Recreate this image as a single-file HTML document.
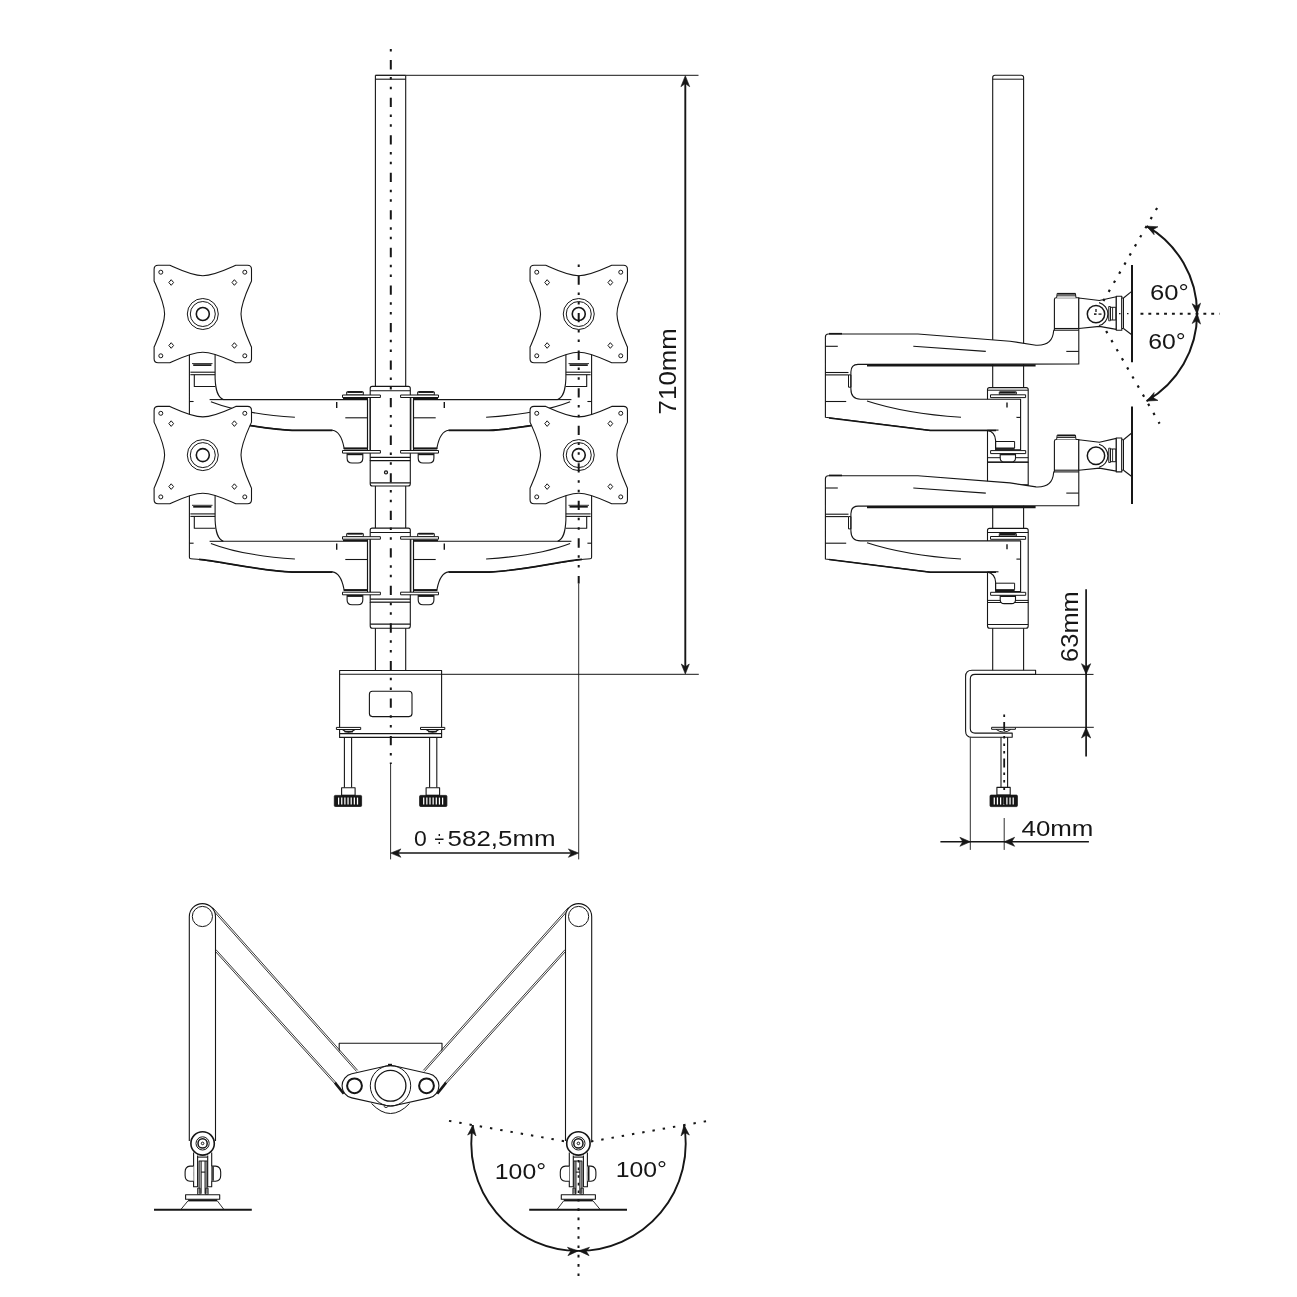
<!DOCTYPE html>
<html><head><meta charset="utf-8"><title>Monitor mount drawing</title>
<style>
html,body{margin:0;padding:0;background:#fff;}
body{width:1297px;height:1297px;overflow:hidden;font-family:"Liberation Sans",sans-serif;}
svg{display:block;}
svg text{font-family:"Liberation Sans",sans-serif;}
svg{filter:grayscale(1);}
</style></head><body>
<svg width="1297" height="1297" viewBox="0 0 1297 1297" fill="none" stroke="#161616" stroke-linecap="butt" stroke-linejoin="round">
<rect x="0" y="0" width="1297" height="1297" fill="#fff" stroke="none"/>
<g id="front">
<line x1="375.4" y1="75.3" x2="375.4" y2="671" stroke-width="1.1" />
<line x1="405.7" y1="75.3" x2="405.7" y2="671" stroke-width="1.1" />
<line x1="375.4" y1="75.3" x2="405.7" y2="75.3" stroke-width="1.3" />
<line x1="375.4" y1="79.2" x2="405.7" y2="79.2" stroke-width="1.1" />
<g transform="translate(0 -141.7)">
<path d="M189.4,492 L189.4,557.3 Q189.4,558.7 190.8,558.7 C215,560 260,571 292.1,571.9 L332.4,571.9 C338,572.6 342,579 343.9,588.9 L343.9,590.3 L367.5,590.3 L367.5,541.3 L223.4,541.3 C217.5,539 215.6,532 215.1,520 L215.1,492 Z" stroke-width="1.1" fill="#fff" />
<line x1="193.2" y1="506.8" x2="211.4" y2="506.8" stroke-width="1.7" />
<line x1="192" y1="505.3" x2="212.5" y2="505.3" stroke-width="0.9" />
<line x1="190.4" y1="513.9" x2="215.1" y2="513.9" stroke-width="1.1" />
<line x1="190.4" y1="516.4" x2="215.1" y2="516.4" stroke-width="1.1" />
<path d="M194.3,516.4 L194.3,528.2 L215.3,528.2" stroke-width="1.1" fill="none" />
<line x1="189.4" y1="543.2" x2="193.6" y2="543.2" stroke-width="1.1" />
<line x1="209.6" y1="541.3" x2="223.4" y2="541.3" stroke-width="1.1" />
<path d="M210.9,543.4 Q242,555.5 294.9,559" stroke-width="1.1" fill="none" />
<path d="M199,559.3 C220,561 262,571.2 292.1,572.1 L332.4,572.1" stroke-width="1.7" fill="none" />
<line x1="336.7" y1="543.6" x2="336.7" y2="549.8" stroke-width="1.4" />
<line x1="345.3" y1="559.5" x2="367" y2="559.5" stroke-width="1.1" />
<line x1="344" y1="590.1" x2="367.5" y2="590.1" stroke-width="2.0" />
<line x1="343" y1="540.4" x2="367.5" y2="540.4" stroke-width="1.6" />
</g>
<g transform="translate(781 -141.7) scale(-1 1)">
<path d="M189.4,492 L189.4,557.3 Q189.4,558.7 190.8,558.7 C215,560 260,571 292.1,571.9 L332.4,571.9 C338,572.6 342,579 343.9,588.9 L343.9,590.3 L367.5,590.3 L367.5,541.3 L223.4,541.3 C217.5,539 215.6,532 215.1,520 L215.1,492 Z" stroke-width="1.1" fill="#fff" />
<line x1="193.2" y1="506.8" x2="211.4" y2="506.8" stroke-width="1.7" />
<line x1="192" y1="505.3" x2="212.5" y2="505.3" stroke-width="0.9" />
<line x1="190.4" y1="513.9" x2="215.1" y2="513.9" stroke-width="1.1" />
<line x1="190.4" y1="516.4" x2="215.1" y2="516.4" stroke-width="1.1" />
<path d="M194.3,516.4 L194.3,528.2 L215.3,528.2" stroke-width="1.1" fill="none" />
<line x1="189.4" y1="543.2" x2="193.6" y2="543.2" stroke-width="1.1" />
<line x1="209.6" y1="541.3" x2="223.4" y2="541.3" stroke-width="1.1" />
<path d="M210.9,543.4 Q242,555.5 294.9,559" stroke-width="1.1" fill="none" />
<path d="M199,559.3 C220,561 262,571.2 292.1,572.1 L332.4,572.1" stroke-width="1.7" fill="none" />
<line x1="336.7" y1="543.6" x2="336.7" y2="549.8" stroke-width="1.4" />
<line x1="345.3" y1="559.5" x2="367" y2="559.5" stroke-width="1.1" />
<line x1="344" y1="590.1" x2="367.5" y2="590.1" stroke-width="2.0" />
<line x1="343" y1="540.4" x2="367.5" y2="540.4" stroke-width="1.6" />
</g>
<g transform="translate(0 -141.7)">
<path d="M370.2,602.3 L370.2,530.1 Q370.2,528.1 372.2,528.1 L408.3,528.1 Q410.3,528.1 410.3,530.1 L410.3,602.3 Z" stroke-width="1.1" fill="#fff" />
<line x1="370.2" y1="532.5" x2="410.3" y2="532.5" stroke-width="1.1" />
<g>
<line x1="367.5" y1="539.2" x2="367.5" y2="592.2" stroke-width="1.1" />
<line x1="370.2" y1="539.2" x2="370.2" y2="592.2" stroke-width="1.1" />
<rect x="346.7" y="533.6" width="16.6" height="3.1" rx="0" stroke-width="1.0" fill="#fff" />
<line x1="347.5" y1="533.7" x2="362.5" y2="533.7" stroke-width="1.8" />
<rect x="342.5" y="536.7" width="37.9" height="2.5" rx="0" stroke-width="1.0" fill="#fff" />
<path d="M347.1,594.8 L347.1,600 Q347.1,604.7 352,604.7 L358,604.7 Q362.8,604.7 362.8,600 L362.8,594.8" stroke-width="1.1" fill="#fff" />
<line x1="347.1" y1="595.9" x2="362.8" y2="595.9" stroke-width="2.0" />
<rect x="342.5" y="592.2" width="37.9" height="2.6" rx="0" stroke-width="1.0" fill="#fff" />
</g>
<g transform="translate(781 0) scale(-1 1)">
<line x1="367.5" y1="539.2" x2="367.5" y2="592.2" stroke-width="1.1" />
<line x1="370.2" y1="539.2" x2="370.2" y2="592.2" stroke-width="1.1" />
<rect x="346.7" y="533.6" width="16.6" height="3.1" rx="0" stroke-width="1.0" fill="#fff" />
<line x1="347.5" y1="533.7" x2="362.5" y2="533.7" stroke-width="1.8" />
<rect x="342.5" y="536.7" width="37.9" height="2.5" rx="0" stroke-width="1.0" fill="#fff" />
<path d="M347.1,594.8 L347.1,600 Q347.1,604.7 352,604.7 L358,604.7 Q362.8,604.7 362.8,600 L362.8,594.8" stroke-width="1.1" fill="#fff" />
<line x1="347.1" y1="595.9" x2="362.8" y2="595.9" stroke-width="2.0" />
<rect x="342.5" y="592.2" width="37.9" height="2.6" rx="0" stroke-width="1.0" fill="#fff" />
</g>
<line x1="370.2" y1="599.1" x2="410.3" y2="599.1" stroke-width="1.1" />
<path d="M370.2,602.3 L370.2,625.4 Q370.2,627.7 372.5,627.7 L408,627.7 Q410.3,627.7 410.3,625.4 L410.3,602.3 Z" stroke-width="1.1" fill="#fff" />
<line x1="370.2" y1="624.6" x2="410.3" y2="624.6" stroke-width="1.1" />
<circle cx="386" cy="614.1" r="1.5" stroke-width="1.3" fill="none" />
</g>
<path d="M189.4,492 L189.4,557.3 Q189.4,558.7 190.8,558.7 C215,560 260,571 292.1,571.9 L332.4,571.9 C338,572.6 342,579 343.9,588.9 L343.9,590.3 L367.5,590.3 L367.5,541.3 L223.4,541.3 C217.5,539 215.6,532 215.1,520 L215.1,492 Z" stroke-width="1.1" fill="#fff" />
<line x1="193.2" y1="506.8" x2="211.4" y2="506.8" stroke-width="1.7" />
<line x1="192" y1="505.3" x2="212.5" y2="505.3" stroke-width="0.9" />
<line x1="190.4" y1="513.9" x2="215.1" y2="513.9" stroke-width="1.1" />
<line x1="190.4" y1="516.4" x2="215.1" y2="516.4" stroke-width="1.1" />
<path d="M194.3,516.4 L194.3,528.2 L215.3,528.2" stroke-width="1.1" fill="none" />
<line x1="189.4" y1="543.2" x2="193.6" y2="543.2" stroke-width="1.1" />
<line x1="209.6" y1="541.3" x2="223.4" y2="541.3" stroke-width="1.1" />
<path d="M210.9,543.4 Q242,555.5 294.9,559" stroke-width="1.1" fill="none" />
<path d="M199,559.3 C220,561 262,571.2 292.1,572.1 L332.4,572.1" stroke-width="1.7" fill="none" />
<line x1="336.7" y1="543.6" x2="336.7" y2="549.8" stroke-width="1.4" />
<line x1="345.3" y1="559.5" x2="367" y2="559.5" stroke-width="1.1" />
<line x1="344" y1="590.1" x2="367.5" y2="590.1" stroke-width="2.0" />
<line x1="343" y1="540.4" x2="367.5" y2="540.4" stroke-width="1.6" />
<g transform="translate(781 0) scale(-1 1)">
<path d="M189.4,492 L189.4,557.3 Q189.4,558.7 190.8,558.7 C215,560 260,571 292.1,571.9 L332.4,571.9 C338,572.6 342,579 343.9,588.9 L343.9,590.3 L367.5,590.3 L367.5,541.3 L223.4,541.3 C217.5,539 215.6,532 215.1,520 L215.1,492 Z" stroke-width="1.1" fill="#fff" />
<line x1="193.2" y1="506.8" x2="211.4" y2="506.8" stroke-width="1.7" />
<line x1="192" y1="505.3" x2="212.5" y2="505.3" stroke-width="0.9" />
<line x1="190.4" y1="513.9" x2="215.1" y2="513.9" stroke-width="1.1" />
<line x1="190.4" y1="516.4" x2="215.1" y2="516.4" stroke-width="1.1" />
<path d="M194.3,516.4 L194.3,528.2 L215.3,528.2" stroke-width="1.1" fill="none" />
<line x1="189.4" y1="543.2" x2="193.6" y2="543.2" stroke-width="1.1" />
<line x1="209.6" y1="541.3" x2="223.4" y2="541.3" stroke-width="1.1" />
<path d="M210.9,543.4 Q242,555.5 294.9,559" stroke-width="1.1" fill="none" />
<path d="M199,559.3 C220,561 262,571.2 292.1,572.1 L332.4,572.1" stroke-width="1.7" fill="none" />
<line x1="336.7" y1="543.6" x2="336.7" y2="549.8" stroke-width="1.4" />
<line x1="345.3" y1="559.5" x2="367" y2="559.5" stroke-width="1.1" />
<line x1="344" y1="590.1" x2="367.5" y2="590.1" stroke-width="2.0" />
<line x1="343" y1="540.4" x2="367.5" y2="540.4" stroke-width="1.6" />
</g>
<path d="M370.2,602.3 L370.2,530.1 Q370.2,528.1 372.2,528.1 L408.3,528.1 Q410.3,528.1 410.3,530.1 L410.3,602.3 Z" stroke-width="1.1" fill="#fff" />
<line x1="370.2" y1="532.5" x2="410.3" y2="532.5" stroke-width="1.1" />
<g>
<line x1="367.5" y1="539.2" x2="367.5" y2="592.2" stroke-width="1.1" />
<line x1="370.2" y1="539.2" x2="370.2" y2="592.2" stroke-width="1.1" />
<rect x="346.7" y="533.6" width="16.6" height="3.1" rx="0" stroke-width="1.0" fill="#fff" />
<line x1="347.5" y1="533.7" x2="362.5" y2="533.7" stroke-width="1.8" />
<rect x="342.5" y="536.7" width="37.9" height="2.5" rx="0" stroke-width="1.0" fill="#fff" />
<path d="M347.1,594.8 L347.1,600 Q347.1,604.7 352,604.7 L358,604.7 Q362.8,604.7 362.8,600 L362.8,594.8" stroke-width="1.1" fill="#fff" />
<line x1="347.1" y1="595.9" x2="362.8" y2="595.9" stroke-width="2.0" />
<rect x="342.5" y="592.2" width="37.9" height="2.6" rx="0" stroke-width="1.0" fill="#fff" />
</g>
<g transform="translate(781 0) scale(-1 1)">
<line x1="367.5" y1="539.2" x2="367.5" y2="592.2" stroke-width="1.1" />
<line x1="370.2" y1="539.2" x2="370.2" y2="592.2" stroke-width="1.1" />
<rect x="346.7" y="533.6" width="16.6" height="3.1" rx="0" stroke-width="1.0" fill="#fff" />
<line x1="347.5" y1="533.7" x2="362.5" y2="533.7" stroke-width="1.8" />
<rect x="342.5" y="536.7" width="37.9" height="2.5" rx="0" stroke-width="1.0" fill="#fff" />
<path d="M347.1,594.8 L347.1,600 Q347.1,604.7 352,604.7 L358,604.7 Q362.8,604.7 362.8,600 L362.8,594.8" stroke-width="1.1" fill="#fff" />
<line x1="347.1" y1="595.9" x2="362.8" y2="595.9" stroke-width="2.0" />
<rect x="342.5" y="592.2" width="37.9" height="2.6" rx="0" stroke-width="1.0" fill="#fff" />
</g>
<line x1="370.2" y1="599.1" x2="410.3" y2="599.1" stroke-width="1.1" />
<path d="M370.2,602.3 L370.2,626 Q370.2,628.3 372.5,628.3 L408,628.3 Q410.3,628.3 410.3,626 L410.3,602.3 Z" stroke-width="1.1" fill="#fff" />
<line x1="370.2" y1="624.1" x2="410.3" y2="624.1" stroke-width="1.1" />
<g transform="translate(202.8 314)">
<path d="M-33,-48.7 C-22,-43.8 -10.5,-38.2 0,-38.2 C10.5,-38.2 22,-43.8 33,-48.7 L44.7,-48.7 Q48.7,-48.7 48.7,-44.7 L48.7,-33 C43.8,-22 38.2,-10.5 38.2,0 C38.2,10.5 43.8,22 48.7,33 L48.7,44.7 Q48.7,48.7 44.7,48.7 L33,48.7 C22,43.8 10.5,38.2 0,38.2 C-10.5,38.2 -22,43.8 -33,48.7 L-44.7,48.7 Q-48.7,48.7 -48.7,44.7 L-48.7,33 C-43.8,22 -38.2,10.5 -38.2,0 C-38.2,-10.5 -43.8,-22 -48.7,-33 L-48.7,-44.7 Q-48.7,-48.7 -44.7,-48.7 Z" stroke-width="1.1" fill="#fff" />
<circle cx="0" cy="0" r="15.5" stroke-width="1.0" fill="none" />
<circle cx="0" cy="0" r="12.5" stroke-width="1.0" fill="none" />
<circle cx="0" cy="0" r="6.5" stroke-width="1.6" fill="none" />
<circle cx="-42" cy="-41.8" r="2" stroke-width="1.0" fill="none" />
<path d="M-31.6,-34.3 L-29.22,-31.5 L-31.6,-28.7 L-33.98,-31.5 Z" stroke-width="1.0" fill="none" />
<circle cx="-42" cy="41.8" r="2" stroke-width="1.0" fill="none" />
<path d="M-31.6,28.7 L-29.22,31.5 L-31.6,34.3 L-33.98,31.5 Z" stroke-width="1.0" fill="none" />
<circle cx="42" cy="-41.8" r="2" stroke-width="1.0" fill="none" />
<path d="M31.6,-34.3 L33.98,-31.5 L31.6,-28.7 L29.22,-31.5 Z" stroke-width="1.0" fill="none" />
<circle cx="42" cy="41.8" r="2" stroke-width="1.0" fill="none" />
<path d="M31.6,28.7 L33.98,31.5 L31.6,34.3 L29.22,31.5 Z" stroke-width="1.0" fill="none" />
</g>
<g transform="translate(202.8 455.1)">
<path d="M-33,-48.7 C-22,-43.8 -10.5,-38.2 0,-38.2 C10.5,-38.2 22,-43.8 33,-48.7 L44.7,-48.7 Q48.7,-48.7 48.7,-44.7 L48.7,-33 C43.8,-22 38.2,-10.5 38.2,0 C38.2,10.5 43.8,22 48.7,33 L48.7,44.7 Q48.7,48.7 44.7,48.7 L33,48.7 C22,43.8 10.5,38.2 0,38.2 C-10.5,38.2 -22,43.8 -33,48.7 L-44.7,48.7 Q-48.7,48.7 -48.7,44.7 L-48.7,33 C-43.8,22 -38.2,10.5 -38.2,0 C-38.2,-10.5 -43.8,-22 -48.7,-33 L-48.7,-44.7 Q-48.7,-48.7 -44.7,-48.7 Z" stroke-width="1.1" fill="#fff" />
<circle cx="0" cy="0" r="15.5" stroke-width="1.0" fill="none" />
<circle cx="0" cy="0" r="12.5" stroke-width="1.0" fill="none" />
<circle cx="0" cy="0" r="6.5" stroke-width="1.6" fill="none" />
<circle cx="-42" cy="-41.8" r="2" stroke-width="1.0" fill="none" />
<path d="M-31.6,-34.3 L-29.22,-31.5 L-31.6,-28.7 L-33.98,-31.5 Z" stroke-width="1.0" fill="none" />
<circle cx="-42" cy="41.8" r="2" stroke-width="1.0" fill="none" />
<path d="M-31.6,28.7 L-29.22,31.5 L-31.6,34.3 L-33.98,31.5 Z" stroke-width="1.0" fill="none" />
<circle cx="42" cy="-41.8" r="2" stroke-width="1.0" fill="none" />
<path d="M31.6,-34.3 L33.98,-31.5 L31.6,-28.7 L29.22,-31.5 Z" stroke-width="1.0" fill="none" />
<circle cx="42" cy="41.8" r="2" stroke-width="1.0" fill="none" />
<path d="M31.6,28.7 L33.98,31.5 L31.6,34.3 L29.22,31.5 Z" stroke-width="1.0" fill="none" />
</g>
<g transform="translate(578.75 314)">
<path d="M-33,-48.7 C-22,-43.8 -10.5,-38.2 0,-38.2 C10.5,-38.2 22,-43.8 33,-48.7 L44.7,-48.7 Q48.7,-48.7 48.7,-44.7 L48.7,-33 C43.8,-22 38.2,-10.5 38.2,0 C38.2,10.5 43.8,22 48.7,33 L48.7,44.7 Q48.7,48.7 44.7,48.7 L33,48.7 C22,43.8 10.5,38.2 0,38.2 C-10.5,38.2 -22,43.8 -33,48.7 L-44.7,48.7 Q-48.7,48.7 -48.7,44.7 L-48.7,33 C-43.8,22 -38.2,10.5 -38.2,0 C-38.2,-10.5 -43.8,-22 -48.7,-33 L-48.7,-44.7 Q-48.7,-48.7 -44.7,-48.7 Z" stroke-width="1.1" fill="#fff" />
<circle cx="0" cy="0" r="15.5" stroke-width="1.0" fill="none" />
<circle cx="0" cy="0" r="12.5" stroke-width="1.0" fill="none" />
<circle cx="0" cy="0" r="6.5" stroke-width="1.6" fill="none" />
<circle cx="-42" cy="-41.8" r="2" stroke-width="1.0" fill="none" />
<path d="M-31.6,-34.3 L-29.22,-31.5 L-31.6,-28.7 L-33.98,-31.5 Z" stroke-width="1.0" fill="none" />
<circle cx="-42" cy="41.8" r="2" stroke-width="1.0" fill="none" />
<path d="M-31.6,28.7 L-29.22,31.5 L-31.6,34.3 L-33.98,31.5 Z" stroke-width="1.0" fill="none" />
<circle cx="42" cy="-41.8" r="2" stroke-width="1.0" fill="none" />
<path d="M31.6,-34.3 L33.98,-31.5 L31.6,-28.7 L29.22,-31.5 Z" stroke-width="1.0" fill="none" />
<circle cx="42" cy="41.8" r="2" stroke-width="1.0" fill="none" />
<path d="M31.6,28.7 L33.98,31.5 L31.6,34.3 L29.22,31.5 Z" stroke-width="1.0" fill="none" />
</g>
<g transform="translate(578.75 455.1)">
<path d="M-33,-48.7 C-22,-43.8 -10.5,-38.2 0,-38.2 C10.5,-38.2 22,-43.8 33,-48.7 L44.7,-48.7 Q48.7,-48.7 48.7,-44.7 L48.7,-33 C43.8,-22 38.2,-10.5 38.2,0 C38.2,10.5 43.8,22 48.7,33 L48.7,44.7 Q48.7,48.7 44.7,48.7 L33,48.7 C22,43.8 10.5,38.2 0,38.2 C-10.5,38.2 -22,43.8 -33,48.7 L-44.7,48.7 Q-48.7,48.7 -48.7,44.7 L-48.7,33 C-43.8,22 -38.2,10.5 -38.2,0 C-38.2,-10.5 -43.8,-22 -48.7,-33 L-48.7,-44.7 Q-48.7,-48.7 -44.7,-48.7 Z" stroke-width="1.1" fill="#fff" />
<circle cx="0" cy="0" r="15.5" stroke-width="1.0" fill="none" />
<circle cx="0" cy="0" r="12.5" stroke-width="1.0" fill="none" />
<circle cx="0" cy="0" r="6.5" stroke-width="1.6" fill="none" />
<circle cx="-42" cy="-41.8" r="2" stroke-width="1.0" fill="none" />
<path d="M-31.6,-34.3 L-29.22,-31.5 L-31.6,-28.7 L-33.98,-31.5 Z" stroke-width="1.0" fill="none" />
<circle cx="-42" cy="41.8" r="2" stroke-width="1.0" fill="none" />
<path d="M-31.6,28.7 L-29.22,31.5 L-31.6,34.3 L-33.98,31.5 Z" stroke-width="1.0" fill="none" />
<circle cx="42" cy="-41.8" r="2" stroke-width="1.0" fill="none" />
<path d="M31.6,-34.3 L33.98,-31.5 L31.6,-28.7 L29.22,-31.5 Z" stroke-width="1.0" fill="none" />
<circle cx="42" cy="41.8" r="2" stroke-width="1.0" fill="none" />
<path d="M31.6,28.7 L33.98,31.5 L31.6,34.3 L29.22,31.5 Z" stroke-width="1.0" fill="none" />
</g>
<rect x="339.6" y="670.5" width="102" height="63.1" rx="0" stroke-width="1.1" fill="#fff" />
<line x1="339.6" y1="674.2" x2="441.6" y2="674.2" stroke-width="1.1" />
<rect x="339.6" y="733.6" width="102" height="3.8" rx="0" stroke-width="1.1" fill="#fff" />
<rect x="369.4" y="691.3" width="42.6" height="25.3" rx="3" stroke-width="1.1" fill="none" />
<g>
<path d="M342.5,729.5 Q348.5,735 355,729.5" stroke-width="1.1" fill="#fff" />
<line x1="344.5" y1="731.6" x2="353" y2="731.6" stroke-width="1.6" />
<rect x="336.4" y="727.4" width="24.3" height="2.1" rx="0" stroke-width="1.0" fill="#fff" />
<line x1="344.4" y1="737.4" x2="344.4" y2="787.7" stroke-width="1.1" />
<line x1="351.6" y1="737.4" x2="351.6" y2="787.7" stroke-width="1.1" />
<rect x="341.6" y="787.7" width="13.5" height="7.7" rx="0" stroke-width="1.1" fill="#fff" />
<rect x="334.3" y="795.4" width="27.3" height="11.1" rx="1" stroke-width="0.8" fill="#161616" />
<line x1="338.6" y1="797.6" x2="338.6" y2="804.6" stroke-width="1.25" stroke="#fff"/>
<line x1="341.75" y1="797.6" x2="341.75" y2="804.6" stroke-width="1.25" stroke="#fff"/>
<line x1="344.9" y1="797.6" x2="344.9" y2="804.6" stroke-width="1.25" stroke="#fff"/>
<line x1="348.05" y1="797.6" x2="348.05" y2="804.6" stroke-width="1.25" stroke="#fff"/>
<line x1="351.2" y1="797.6" x2="351.2" y2="804.6" stroke-width="1.25" stroke="#fff"/>
<line x1="354.35" y1="797.6" x2="354.35" y2="804.6" stroke-width="1.25" stroke="#fff"/>
<line x1="357.5" y1="797.6" x2="357.5" y2="804.6" stroke-width="1.25" stroke="#fff"/>
</g>
<g transform="translate(781.2 0) scale(-1 1)">
<path d="M342.5,729.5 Q348.5,735 355,729.5" stroke-width="1.1" fill="#fff" />
<line x1="344.5" y1="731.6" x2="353" y2="731.6" stroke-width="1.6" />
<rect x="336.4" y="727.4" width="24.3" height="2.1" rx="0" stroke-width="1.0" fill="#fff" />
<line x1="344.4" y1="737.4" x2="344.4" y2="787.7" stroke-width="1.1" />
<line x1="351.6" y1="737.4" x2="351.6" y2="787.7" stroke-width="1.1" />
<rect x="341.6" y="787.7" width="13.5" height="7.7" rx="0" stroke-width="1.1" fill="#fff" />
<rect x="334.3" y="795.4" width="27.3" height="11.1" rx="1" stroke-width="0.8" fill="#161616" />
<line x1="338.6" y1="797.6" x2="338.6" y2="804.6" stroke-width="1.25" stroke="#fff"/>
<line x1="341.75" y1="797.6" x2="341.75" y2="804.6" stroke-width="1.25" stroke="#fff"/>
<line x1="344.9" y1="797.6" x2="344.9" y2="804.6" stroke-width="1.25" stroke="#fff"/>
<line x1="348.05" y1="797.6" x2="348.05" y2="804.6" stroke-width="1.25" stroke="#fff"/>
<line x1="351.2" y1="797.6" x2="351.2" y2="804.6" stroke-width="1.25" stroke="#fff"/>
<line x1="354.35" y1="797.6" x2="354.35" y2="804.6" stroke-width="1.25" stroke="#fff"/>
<line x1="357.5" y1="797.6" x2="357.5" y2="804.6" stroke-width="1.25" stroke="#fff"/>
</g>
<line x1="405.7" y1="75.3" x2="698.5" y2="75.3" stroke-width="1.0" />
<line x1="441.6" y1="674.3" x2="698.8" y2="674.3" stroke-width="1.0" />
<line x1="685.3" y1="80" x2="685.3" y2="669" stroke-width="1.9" />
<path d="M685.3,75.7 L689.7,86.7 L685.3,83.62 L680.9,86.7 Z" fill="#161616" stroke="#161616" stroke-width="0.6" stroke-linejoin="miter"/>
<path d="M685.3,674 L681.3,664 L685.3,666.8 L689.3,664 Z" fill="#161616" stroke="#161616" stroke-width="0.6" stroke-linejoin="miter"/>
<text x="676.1" y="414.4" font-size="23.7" textLength="86.3" lengthAdjust="spacingAndGlyphs" fill="#161616" stroke="none" transform="rotate(-90 676.1 414.4)">710mm</text>
<line x1="390.8" y1="49.1" x2="390.8" y2="764" stroke-width="2.0" stroke-dasharray="2.5 8.5 9.3 7.6 2.5 7.15" stroke-dashoffset="0"/>
<line x1="390.6" y1="764" x2="390.6" y2="859.4" stroke-width="0.9" />
<line x1="578.7" y1="264.5" x2="578.7" y2="583.4" stroke-width="2.0" stroke-dasharray="2.5 8.5 9.3 7.6 2.5 7.15" stroke-dashoffset="0"/>
<line x1="578.7" y1="583.4" x2="578.7" y2="859.4" stroke-width="0.9" />
<line x1="394" y1="853.1" x2="575" y2="853.1" stroke-width="1.5" />
<path d="M390.7,853.1 L400.9,848.9 L398.04,853.1 L400.9,857.3 Z" fill="#161616" stroke="#161616" stroke-width="0.6" stroke-linejoin="miter"/>
<path d="M578.6,853.1 L568.4,857.3 L571.26,853.1 L568.4,848.9 Z" fill="#161616" stroke="#161616" stroke-width="0.6" stroke-linejoin="miter"/>
<text x="413.9" y="846.1" font-size="21.8" textLength="12.8" lengthAdjust="spacingAndGlyphs" fill="#161616" stroke="none">0</text>
<text x="434.5" y="846.1" font-size="21.8" textLength="9.6" lengthAdjust="spacingAndGlyphs" fill="#161616" stroke="none">÷</text>
<text x="447.6" y="846.1" font-size="21.8" textLength="108" lengthAdjust="spacingAndGlyphs" fill="#161616" stroke="none">582,5mm</text>
</g>
<g id="side">
<path d="M992.7,671 L992.7,77.5 Q992.7,75.3 995,75.3 L1021.3,75.3 Q1023.6,75.3 1023.6,77.5 L1023.6,671" stroke-width="1.1" fill="none" />
<line x1="992.7" y1="79.2" x2="1023.6" y2="79.2" stroke-width="1.0" />
<g transform="translate(0 -141.7)">
<path d="M987.5,603.9 L987.5,531.3 Q987.5,529.3 989.5,529.3 L1026.2,529.3 Q1028.2,529.3 1028.2,531.3 L1028.2,603.9 Z" stroke-width="1.1" fill="#fff" />
<line x1="987.5" y1="531.9" x2="1028.2" y2="531.9" stroke-width="1.0" />
<path d="M987.5,603.9 L987.5,626.4 Q987.5,628.7 989.8,628.7 L1025.9,628.7 Q1028.2,628.7 1028.2,626.4 L1028.2,603.9 Z" stroke-width="1.1" fill="#fff" />
<line x1="987.5" y1="626.5" x2="1028.2" y2="626.5" stroke-width="1.1" />
<line x1="987.5" y1="599.4" x2="1028.2" y2="599.4" stroke-width="1.0" />
<line x1="987.5" y1="603.9" x2="1028.2" y2="603.9" stroke-width="1.0" />
<rect x="999.3" y="533.6" width="17" height="2.4" rx="0" stroke-width="1.0" fill="#fff" />
<line x1="1000" y1="534.3" x2="1015.6" y2="534.3" stroke-width="1.8" />
<rect x="990.5" y="536.5" width="35.1" height="2.8" rx="0" stroke-width="1.0" fill="#fff" />
<path d="M1000.2,595.1 L1000.2,599.7 Q1000.2,603.6 1004.2,603.6 L1011.5,603.6 Q1015.5,603.6 1015.5,599.7 L1015.5,595.1" stroke-width="1.1" fill="#fff" />
<line x1="1000.2" y1="596.1" x2="1015.5" y2="596.1" stroke-width="1.8" />
<rect x="990.6" y="592.3" width="35.1" height="3" rx="0" stroke-width="1.0" fill="#fff" />
</g>
<path d="M825.4,337 Q825.4,334 828.4,334 L917.9,334 L1010,341.2 L1036,345.2 Q1052.6,346 1053.6,331 L1054.4,329.4 L1054.4,299.6 Q1054.4,297.8 1056.2,297.8 L1078.8,297.8 L1078.8,364 L858,364.4 Q850.9,364.6 850.9,372 L850.9,389 Q850.9,399.2 860.5,399.2 L1020.6,399.2 L1020.6,449.8 L995.6,449.8 L995.6,440.4 Q995,431.8 987.5,430.4 L930.3,430.4 L825.4,417.3 Z" stroke-width="1.1" fill="#fff" />
<line x1="987.5" y1="430.1" x2="998.5" y2="430.1" stroke-width="1.1" />
<line x1="825.4" y1="346.3" x2="837.8" y2="346.3" stroke-width="1.1" />
<line x1="825.4" y1="372.5" x2="848.5" y2="372.5" stroke-width="1.1" />
<line x1="825.4" y1="374.9" x2="848.5" y2="374.9" stroke-width="1.1" />
<rect x="848.5" y="374.9" width="2.4" height="12.3" rx="0" stroke-width="1.0" fill="none" />
<line x1="825.4" y1="401.5" x2="846.2" y2="401.5" stroke-width="1.1" />
<line x1="829" y1="333.7" x2="842" y2="333.7" stroke-width="1.6" />
<line x1="867" y1="365.4" x2="1035.6" y2="365.4" stroke-width="2.2" />
<line x1="913.3" y1="346.3" x2="985.8" y2="351.4" stroke-width="1.1" />
<path d="M867,401 Q905,413.5 961,417.3" stroke-width="1.1" fill="none" />
<path d="M829,417.9 L930.3,430.5 L996,430.5" stroke-width="1.5" fill="none" />
<rect x="995.6" y="441.5" width="19" height="6.5" rx="0" stroke-width="1.0" fill="none" />
<line x1="996" y1="448.9" x2="1014.6" y2="448.9" stroke-width="1.6" />
<line x1="1007" y1="402.5" x2="1007" y2="407.5" stroke-width="1.4" />
<line x1="1016.5" y1="417.4" x2="1020.6" y2="417.4" stroke-width="1.1" />
<line x1="1054.4" y1="328.5" x2="1078.8" y2="328.5" stroke-width="1.1" />
<line x1="1053.8" y1="330.2" x2="1078.8" y2="330.2" stroke-width="1.1" />
<line x1="1066.3" y1="351.4" x2="1078.8" y2="351.4" stroke-width="1.1" />
<path d="M1056.6,297.8 L1057.2,293.4 L1075.4,293.4 L1076,297.8" stroke-width="1.0" fill="#fff" />
<line x1="1057.5" y1="293.9" x2="1075.2" y2="293.9" stroke-width="1.5" />
<line x1="1057" y1="295.8" x2="1075.7" y2="295.8" stroke-width="0.9" />
<path d="M1078.8,298 L1099.4,300.5 L1116.3,296.7 L1116.3,329.4 L1099.4,326.4 L1078.8,328.5 Z" stroke-width="1.1" fill="#fff" />
<circle cx="1096" cy="314.1" r="8.7" stroke-width="1.5" fill="none" />
<path d="M1099.08,302.61 A11.9,11.9 0 0 1 1099.08,325.59" stroke-width="1.1" fill="none" />
<rect x="1108.7" y="306.5" width="1.7" height="14.3" rx="0" stroke-width="0.9" fill="none" />
<rect x="1110.4" y="307.3" width="5.5" height="12.7" rx="0" stroke-width="1.0" fill="none" />
<line x1="1112.6" y1="307.3" x2="1112.6" y2="320" stroke-width="0.9" />
<rect x="1116.3" y="296.3" width="5.5" height="33.9" rx="0" stroke-width="1.1" fill="#fff" />
<rect x="1121.8" y="298" width="1.7" height="30.5" rx="0" stroke-width="1.0" fill="#fff" />
<line x1="1123.5" y1="298" x2="1131.4" y2="291.6" stroke-width="1.1" />
<line x1="1123.5" y1="328.5" x2="1131.4" y2="334.5" stroke-width="1.1" />
<line x1="1096" y1="309" x2="1096" y2="312" stroke-width="1.3" />
<line x1="1098.5" y1="314.1" x2="1101.5" y2="314.1" stroke-width="1.3" />
<line x1="1094" y1="314.1" x2="1096.5" y2="314.1" stroke-width="1.6" />
<path d="M987.5,602.5 L987.5,530.4 Q987.5,528.4 989.5,528.4 L1026.2,528.4 Q1028.2,528.4 1028.2,530.4 L1028.2,602.5 Z" stroke-width="1.1" fill="#fff" />
<line x1="987.5" y1="532.5" x2="1028.2" y2="532.5" stroke-width="1.0" />
<path d="M987.5,602.5 L987.5,626 Q987.5,628.3 989.8,628.3 L1025.9,628.3 Q1028.2,628.3 1028.2,626 L1028.2,602.5 Z" stroke-width="1.1" fill="#fff" />
<line x1="987.5" y1="624.5" x2="1028.2" y2="624.5" stroke-width="1.1" />
<line x1="987.5" y1="600.4" x2="1028.2" y2="600.4" stroke-width="1.0" />
<line x1="987.5" y1="602.5" x2="1028.2" y2="602.5" stroke-width="1.0" />
<rect x="999.3" y="533.6" width="17" height="2.4" rx="0" stroke-width="1.0" fill="#fff" />
<line x1="1000" y1="534.3" x2="1015.6" y2="534.3" stroke-width="1.8" />
<rect x="990.5" y="536.5" width="35.1" height="2.8" rx="0" stroke-width="1.0" fill="#fff" />
<path d="M1000.2,595.1 L1000.2,599.7 Q1000.2,603.6 1004.2,603.6 L1011.5,603.6 Q1015.5,603.6 1015.5,599.7 L1015.5,595.1" stroke-width="1.1" fill="#fff" />
<line x1="1000.2" y1="596.1" x2="1015.5" y2="596.1" stroke-width="1.8" />
<rect x="990.6" y="592.3" width="35.1" height="3" rx="0" stroke-width="1.0" fill="#fff" />
<g transform="translate(0 141.7)">
<path d="M825.4,337 Q825.4,334 828.4,334 L917.9,334 L1010,341.2 L1036,345.2 Q1052.6,346 1053.6,331 L1054.4,329.4 L1054.4,299.6 Q1054.4,297.8 1056.2,297.8 L1078.8,297.8 L1078.8,364 L858,364.4 Q850.9,364.6 850.9,372 L850.9,389 Q850.9,399.2 860.5,399.2 L1020.6,399.2 L1020.6,449.8 L995.6,449.8 L995.6,440.4 Q995,431.8 987.5,430.4 L930.3,430.4 L825.4,417.3 Z" stroke-width="1.1" fill="#fff" />
<line x1="987.5" y1="430.1" x2="998.5" y2="430.1" stroke-width="1.1" />
<line x1="825.4" y1="346.3" x2="837.8" y2="346.3" stroke-width="1.1" />
<line x1="825.4" y1="372.5" x2="848.5" y2="372.5" stroke-width="1.1" />
<line x1="825.4" y1="374.9" x2="848.5" y2="374.9" stroke-width="1.1" />
<rect x="848.5" y="374.9" width="2.4" height="12.3" rx="0" stroke-width="1.0" fill="none" />
<line x1="825.4" y1="401.5" x2="846.2" y2="401.5" stroke-width="1.1" />
<line x1="829" y1="333.7" x2="842" y2="333.7" stroke-width="1.6" />
<line x1="867" y1="365.4" x2="1035.6" y2="365.4" stroke-width="2.2" />
<line x1="913.3" y1="346.3" x2="985.8" y2="351.4" stroke-width="1.1" />
<path d="M867,401 Q905,413.5 961,417.3" stroke-width="1.1" fill="none" />
<path d="M829,417.9 L930.3,430.5 L996,430.5" stroke-width="1.5" fill="none" />
<rect x="995.6" y="441.5" width="19" height="6.5" rx="0" stroke-width="1.0" fill="none" />
<line x1="996" y1="448.9" x2="1014.6" y2="448.9" stroke-width="1.6" />
<line x1="1007" y1="402.5" x2="1007" y2="407.5" stroke-width="1.4" />
<line x1="1016.5" y1="417.4" x2="1020.6" y2="417.4" stroke-width="1.1" />
<line x1="1054.4" y1="328.5" x2="1078.8" y2="328.5" stroke-width="1.1" />
<line x1="1053.8" y1="330.2" x2="1078.8" y2="330.2" stroke-width="1.1" />
<line x1="1066.3" y1="351.4" x2="1078.8" y2="351.4" stroke-width="1.1" />
<path d="M1056.6,297.8 L1057.2,293.4 L1075.4,293.4 L1076,297.8" stroke-width="1.0" fill="#fff" />
<line x1="1057.5" y1="293.9" x2="1075.2" y2="293.9" stroke-width="1.5" />
<line x1="1057" y1="295.8" x2="1075.7" y2="295.8" stroke-width="0.9" />
<path d="M1078.8,298 L1099.4,300.5 L1116.3,296.7 L1116.3,329.4 L1099.4,326.4 L1078.8,328.5 Z" stroke-width="1.1" fill="#fff" />
<circle cx="1096" cy="314.1" r="8.7" stroke-width="1.5" fill="none" />
<path d="M1099.08,302.61 A11.9,11.9 0 0 1 1099.08,325.59" stroke-width="1.1" fill="none" />
<rect x="1108.7" y="306.5" width="1.7" height="14.3" rx="0" stroke-width="0.9" fill="none" />
<rect x="1110.4" y="307.3" width="5.5" height="12.7" rx="0" stroke-width="1.0" fill="none" />
<line x1="1112.6" y1="307.3" x2="1112.6" y2="320" stroke-width="0.9" />
<rect x="1116.3" y="296.3" width="5.5" height="33.9" rx="0" stroke-width="1.1" fill="#fff" />
<rect x="1121.8" y="298" width="1.7" height="30.5" rx="0" stroke-width="1.0" fill="#fff" />
<line x1="1123.5" y1="298" x2="1131.4" y2="291.6" stroke-width="1.1" />
<line x1="1123.5" y1="328.5" x2="1131.4" y2="334.5" stroke-width="1.1" />
</g>
<line x1="1132" y1="264.9" x2="1132" y2="362.3" stroke-width="2.0" />
<line x1="1132" y1="406.6" x2="1132" y2="504" stroke-width="2.0" />
<path d="M1035.6,670.3 L972,670.3 Q965.6,670.3 965.6,676.5 L965.6,731 Q965.6,737.3 972,737.3 L1012.2,737.3 L1012.2,733.1 L975,733.1 Q970.3,733.1 970.3,728.5 L970.3,679 Q970.3,674.4 975,674.4 L1035.6,674.4 Z" stroke-width="1.1" fill="#fff" />
<path d="M996,729.3 Q1003.5,735 1011,729.3" stroke-width="1.0" fill="#fff" />
<rect x="991.6" y="727.3" width="23.8" height="2" rx="0" stroke-width="1.0" fill="#fff" />
<line x1="1001" y1="737.3" x2="1001" y2="787.4" stroke-width="1.1" />
<line x1="1007.6" y1="737.3" x2="1007.6" y2="787.4" stroke-width="1.1" />
<rect x="996.9" y="787.4" width="13.3" height="7.7" rx="0" stroke-width="1.1" fill="#fff" />
<rect x="990" y="795.1" width="27.4" height="11.5" rx="1" stroke-width="0.8" fill="#161616" />
<line x1="994.3" y1="797.4" x2="994.3" y2="804.6" stroke-width="1.25" stroke="#fff"/>
<line x1="997.45" y1="797.4" x2="997.45" y2="804.6" stroke-width="1.25" stroke="#fff"/>
<line x1="1000.6" y1="797.4" x2="1000.6" y2="804.6" stroke-width="1.25" stroke="#fff"/>
<line x1="1003.75" y1="797.4" x2="1003.75" y2="804.6" stroke-width="1.25" stroke="#fff"/>
<line x1="1006.9" y1="797.4" x2="1006.9" y2="804.6" stroke-width="1.25" stroke="#fff"/>
<line x1="1010.05" y1="797.4" x2="1010.05" y2="804.6" stroke-width="1.25" stroke="#fff"/>
<line x1="1013.2" y1="797.4" x2="1013.2" y2="804.6" stroke-width="1.25" stroke="#fff"/>
<line x1="1004.2" y1="714.6" x2="1004.2" y2="809" stroke-width="1.8" stroke-dasharray="2.5 5 9 5 2.5 5 2.5 5"/>
<line x1="1004.2" y1="818" x2="1004.2" y2="849.9" stroke-width="0.9" />
<line x1="970.3" y1="737.3" x2="970.3" y2="849.9" stroke-width="0.9" />
<line x1="1035.6" y1="674.4" x2="1093.5" y2="674.4" stroke-width="1.0" />
<line x1="1015.4" y1="727.3" x2="1093.8" y2="727.3" stroke-width="1.0" />
<line x1="1086.1" y1="589.3" x2="1086.1" y2="756.6" stroke-width="1.7" />
<path d="M1086.1,674.2 L1081.5,663.7 L1086.1,666.64 L1090.7,663.7 Z" fill="#161616" stroke="#161616" stroke-width="0.6" stroke-linejoin="miter"/>
<path d="M1086.1,727.5 L1090.7,738 L1086.1,735.06 L1081.5,738 Z" fill="#161616" stroke="#161616" stroke-width="0.6" stroke-linejoin="miter"/>
<text x="1078.3" y="661.9" font-size="23.7" textLength="70.7" lengthAdjust="spacingAndGlyphs" fill="#161616" stroke="none" transform="rotate(-90 1078.3 661.9)">63mm</text>
<line x1="940.4" y1="841.8" x2="1088.9" y2="841.8" stroke-width="1.5" />
<path d="M970.3,841.8 L959.9,846.3 L962.81,841.8 L959.9,837.3 Z" fill="#161616" stroke="#161616" stroke-width="0.6" stroke-linejoin="miter"/>
<path d="M1004.2,841.8 L1014.6,837.3 L1011.69,841.8 L1014.6,846.3 Z" fill="#161616" stroke="#161616" stroke-width="0.6" stroke-linejoin="miter"/>
<text x="1021.5" y="836.3" font-size="21.8" textLength="71.9" lengthAdjust="spacingAndGlyphs" fill="#161616" stroke="none">40mm</text>
<line x1="1103.4" y1="300.96" x2="1157.1" y2="207.94" stroke-width="2.2" stroke-dasharray="2.4 8.1"/>
<line x1="1106.15" y1="331.01" x2="1159.6" y2="423.59" stroke-width="2.2" stroke-dasharray="2.4 8.1"/>
<line x1="1140.5" y1="313.7" x2="1219.5" y2="313.7" stroke-width="1.9" stroke-dasharray="2.9 4.96"/>
<line x1="1119" y1="313.7" x2="1132" y2="313.7" stroke-width="1.2" stroke-dasharray="1.5 6.5"/>
<path d="M1146.6,226.13 A101,101 0 0 1 1146.6,401.07" stroke-width="2.0" fill="none" />
<path d="M1146.6,226.13 L1157.97,226.78 L1153.39,229.45 L1154.11,234.69 Z" fill="#161616" stroke="#161616" stroke-width="0.6" stroke-linejoin="miter"/>
<path d="M1146.6,401.07 L1154.11,392.51 L1153.39,397.75 L1157.97,400.42 Z" fill="#161616" stroke="#161616" stroke-width="0.6" stroke-linejoin="miter"/>
<path d="M1197.1,313.9 L1192.18,303.72 L1196.57,306.36 L1200.56,303.13 Z" fill="#161616" stroke="#161616" stroke-width="0.6" stroke-linejoin="miter"/>
<path d="M1197.1,313.3 L1200.56,324.07 L1196.57,320.84 L1192.18,323.48 Z" fill="#161616" stroke="#161616" stroke-width="0.6" stroke-linejoin="miter"/>
<text x="1150" y="300.1" font-size="21.8" textLength="38.8" lengthAdjust="spacingAndGlyphs" fill="#161616" stroke="none">60°</text>
<text x="1148.3" y="348.8" font-size="21.8" textLength="37.5" lengthAdjust="spacingAndGlyphs" fill="#161616" stroke="none">60°</text>
</g>
<g id="top">
<line x1="449" y1="1120.87" x2="566.68" y2="1141.62" stroke-width="2.0" stroke-dasharray="2.4 8"/>
<line x1="706.03" y1="1121.21" x2="590.32" y2="1141.62" stroke-width="2.0" stroke-dasharray="2.4 8"/>
<rect x="339.2" y="1043.2" width="102.8" height="41.8" rx="0" stroke-width="1.1" fill="#fff" />
<path d="M212,908 L357.1,1070.9 L343.8,1093.8 L215.3,950.1 Z" stroke-width="0" fill="#fff" stroke="none"/>
<line x1="211.4" y1="908.53" x2="356.5" y2="1071.43" stroke-width="0.85" />
<line x1="212.6" y1="907.47" x2="357.7" y2="1070.37" stroke-width="0.85" />
<line x1="214.71" y1="950.64" x2="334.91" y2="1083.74" stroke-width="0.85" />
<line x1="215.89" y1="949.56" x2="336.09" y2="1082.66" stroke-width="0.85" />
<path d="M334.9,1082.6 L343.8,1093.8" stroke-width="2.6" fill="none" />
<path d="M189.3,1141 L189.3,916.7 A13.1,13.1 0 0 1 215.5,916.7 L215.5,1141" stroke-width="1.1" fill="#fff" />
<circle cx="202.4" cy="916.5" r="10.1" stroke-width="1.0" fill="none" />
<circle cx="202.6" cy="1143.4" r="11.7" stroke-width="1.6" fill="#fff" />
<circle cx="202.6" cy="1143.4" r="6.6" stroke-width="1.0" fill="none" />
<circle cx="202.6" cy="1143.4" r="4.6" stroke-width="1.5" fill="none" />
<circle cx="202.6" cy="1143.4" r="1.3" stroke-width="1.0" fill="none" />
<path d="M193.6,1152.5 L193.6,1186.7 L197.6,1186.7 L197.6,1155.5" stroke-width="1.1" fill="#fff" />
<path d="M211.7,1152.5 L211.7,1186.7 L207.7,1186.7 L207.7,1155.5" stroke-width="1.1" fill="#fff" />
<line x1="197.6" y1="1157.1" x2="207.7" y2="1157.1" stroke-width="1.1" />
<path d="M199.1,1193.7 L199.1,1161 L207,1161 L207,1193.7" stroke-width="1.1" fill="none" />
<line x1="201.1" y1="1161" x2="201.1" y2="1193.7" stroke-width="1.1" />
<line x1="205.1" y1="1161" x2="205.1" y2="1193.7" stroke-width="1.1" />
<line x1="201.1" y1="1172.1" x2="205.1" y2="1172.1" stroke-width="1.1" />
<path d="M193.6,1166.1 L190,1166.1 Q185.1,1166.6 185.1,1172 L185.1,1175.5 Q185.1,1180.8 190,1181.2 L193.6,1181.2" stroke-width="1.1" fill="#fff" />
<path d="M211.7,1166.1 L215.5,1166.1 Q220.7,1166.6 220.7,1172 L220.7,1175.5 Q220.7,1180.8 215.5,1181.2 L211.7,1181.2" stroke-width="1.1" fill="#fff" />
<line x1="213" y1="1166.5" x2="213" y2="1180.8" stroke-width="1.6" />
<rect x="197.5" y="1188.2" width="2.7" height="6.3" rx="0" stroke-width="0.8" fill="none" />
<rect x="205.5" y="1188.2" width="2.7" height="6.3" rx="0" stroke-width="0.8" fill="none" />
<rect x="185.6" y="1194.7" width="34.1" height="4.5" rx="0" stroke-width="1.1" fill="#fff" />
<line x1="188.1" y1="1200.4" x2="217.2" y2="1200.4" stroke-width="2.0" />
<line x1="188.1" y1="1200.7" x2="181.1" y2="1209.2" stroke-width="0.9" />
<line x1="217.2" y1="1200.7" x2="223.7" y2="1209.2" stroke-width="0.9" />
<line x1="154" y1="1209.8" x2="251.8" y2="1209.8" stroke-width="2.0" />
<g transform="translate(781.0 0) scale(-1 1)">
<path d="M212,908 L357.1,1070.9 L343.8,1093.8 L215.3,950.1 Z" stroke-width="0" fill="#fff" stroke="none"/>
<line x1="211.4" y1="908.53" x2="356.5" y2="1071.43" stroke-width="0.85" />
<line x1="212.6" y1="907.47" x2="357.7" y2="1070.37" stroke-width="0.85" />
<line x1="214.71" y1="950.64" x2="334.91" y2="1083.74" stroke-width="0.85" />
<line x1="215.89" y1="949.56" x2="336.09" y2="1082.66" stroke-width="0.85" />
<path d="M334.9,1082.6 L343.8,1093.8" stroke-width="2.6" fill="none" />
<path d="M189.3,1141 L189.3,916.7 A13.1,13.1 0 0 1 215.5,916.7 L215.5,1141" stroke-width="1.1" fill="#fff" />
<circle cx="202.4" cy="916.5" r="10.1" stroke-width="1.0" fill="none" />
<circle cx="202.6" cy="1143.4" r="11.7" stroke-width="1.6" fill="#fff" />
<circle cx="202.6" cy="1143.4" r="6.6" stroke-width="1.0" fill="none" />
<circle cx="202.6" cy="1143.4" r="4.6" stroke-width="1.5" fill="none" />
<circle cx="202.6" cy="1143.4" r="1.3" stroke-width="1.0" fill="none" />
<path d="M193.6,1152.5 L193.6,1186.7 L197.6,1186.7 L197.6,1155.5" stroke-width="1.1" fill="#fff" />
<path d="M211.7,1152.5 L211.7,1186.7 L207.7,1186.7 L207.7,1155.5" stroke-width="1.1" fill="#fff" />
<line x1="197.6" y1="1157.1" x2="207.7" y2="1157.1" stroke-width="1.1" />
<path d="M199.1,1193.7 L199.1,1161 L207,1161 L207,1193.7" stroke-width="1.1" fill="none" />
<line x1="201.1" y1="1161" x2="201.1" y2="1193.7" stroke-width="1.1" />
<line x1="205.1" y1="1161" x2="205.1" y2="1193.7" stroke-width="1.1" />
<line x1="201.1" y1="1172.1" x2="205.1" y2="1172.1" stroke-width="1.1" />
<path d="M193.6,1166.1 L190,1166.1 Q185.1,1166.6 185.1,1172 L185.1,1175.5 Q185.1,1180.8 190,1181.2 L193.6,1181.2" stroke-width="1.1" fill="#fff" />
<path d="M211.7,1166.1 L215.5,1166.1 Q220.7,1166.6 220.7,1172 L220.7,1175.5 Q220.7,1180.8 215.5,1181.2 L211.7,1181.2" stroke-width="1.1" fill="#fff" />
<line x1="192.3" y1="1166.5" x2="192.3" y2="1180.8" stroke-width="1.6" />
<rect x="197.5" y="1188.2" width="2.7" height="6.3" rx="0" stroke-width="0.8" fill="none" />
<rect x="205.5" y="1188.2" width="2.7" height="6.3" rx="0" stroke-width="0.8" fill="none" />
<rect x="185.6" y="1194.7" width="34.1" height="4.5" rx="0" stroke-width="1.1" fill="#fff" />
<line x1="188.1" y1="1200.4" x2="217.2" y2="1200.4" stroke-width="2.0" />
<line x1="188.1" y1="1200.7" x2="181.1" y2="1209.2" stroke-width="0.9" />
<line x1="217.2" y1="1200.7" x2="223.7" y2="1209.2" stroke-width="0.9" />
<line x1="154" y1="1209.8" x2="251.8" y2="1209.8" stroke-width="2.0" />
</g>
<path d="M371.5,1103.5 Q390.5,1123.5 409.5,1103.5" stroke-width="1.0" fill="#fff" />
<path d="M351.81,1073.69 L386.12,1066.08 A20.2,20.2 0 0 1 394.88,1066.08 L429.19,1073.69 A12.4,12.4 0 0 1 429.19,1097.91 L394.88,1105.52 A20.2,20.2 0 0 1 386.12,1105.52 L351.81,1097.91 A12.4,12.4 0 0 1 351.81,1073.69 Z" stroke-width="1.1" fill="#fff" />
<circle cx="390.5" cy="1085.8" r="20.2" stroke-width="1.0" fill="none" />
<circle cx="390.5" cy="1085.8" r="15.4" stroke-width="1.3" fill="none" />
<circle cx="354.5" cy="1085.8" r="7.4" stroke-width="2.0" fill="none" />
<circle cx="426.5" cy="1085.8" r="7.4" stroke-width="2.0" fill="none" />
<ellipse cx="386" cy="1106.5" rx="1.7" ry="1.0" stroke-width="0.9" fill="#fff"/>
<line x1="388" y1="1064.6" x2="392" y2="1064.6" stroke-width="1.6" />
<line x1="578.5" y1="1276" x2="578.5" y2="1196" stroke-width="2.0" stroke-dasharray="2.6 6.7"/>
<line x1="578.5" y1="1160" x2="578.5" y2="1196" stroke-width="1.6" stroke-dasharray="2.6 5"/>
<path d="M472.93,1125.08 A107.2,107.2 0 1 0 684.07,1125.08" stroke-width="1.9" fill="none" />
<path d="M472.93,1125.08 L476.01,1135.97 L472.14,1132.6 L467.65,1135.09 Z" fill="#161616" stroke="#161616" stroke-width="0.6" stroke-linejoin="miter"/>
<path d="M684.07,1125.08 L689.35,1135.09 L684.86,1132.6 L680.99,1135.97 Z" fill="#161616" stroke="#161616" stroke-width="0.6" stroke-linejoin="miter"/>
<path d="M578.2,1250.9 L567.93,1255.64 L570.65,1251.3 L567.49,1247.26 Z" fill="#161616" stroke="#161616" stroke-width="0.6" stroke-linejoin="miter"/>
<path d="M578.8,1250.9 L589.51,1247.26 L586.35,1251.3 L589.07,1255.64 Z" fill="#161616" stroke="#161616" stroke-width="0.6" stroke-linejoin="miter"/>
<text x="494.8" y="1178.9" font-size="21.8" textLength="51.3" lengthAdjust="spacingAndGlyphs" fill="#161616" stroke="none">100°</text>
<text x="615.7" y="1176.8" font-size="21.8" textLength="51.3" lengthAdjust="spacingAndGlyphs" fill="#161616" stroke="none">100°</text>
</g>
</svg>
</body></html>
